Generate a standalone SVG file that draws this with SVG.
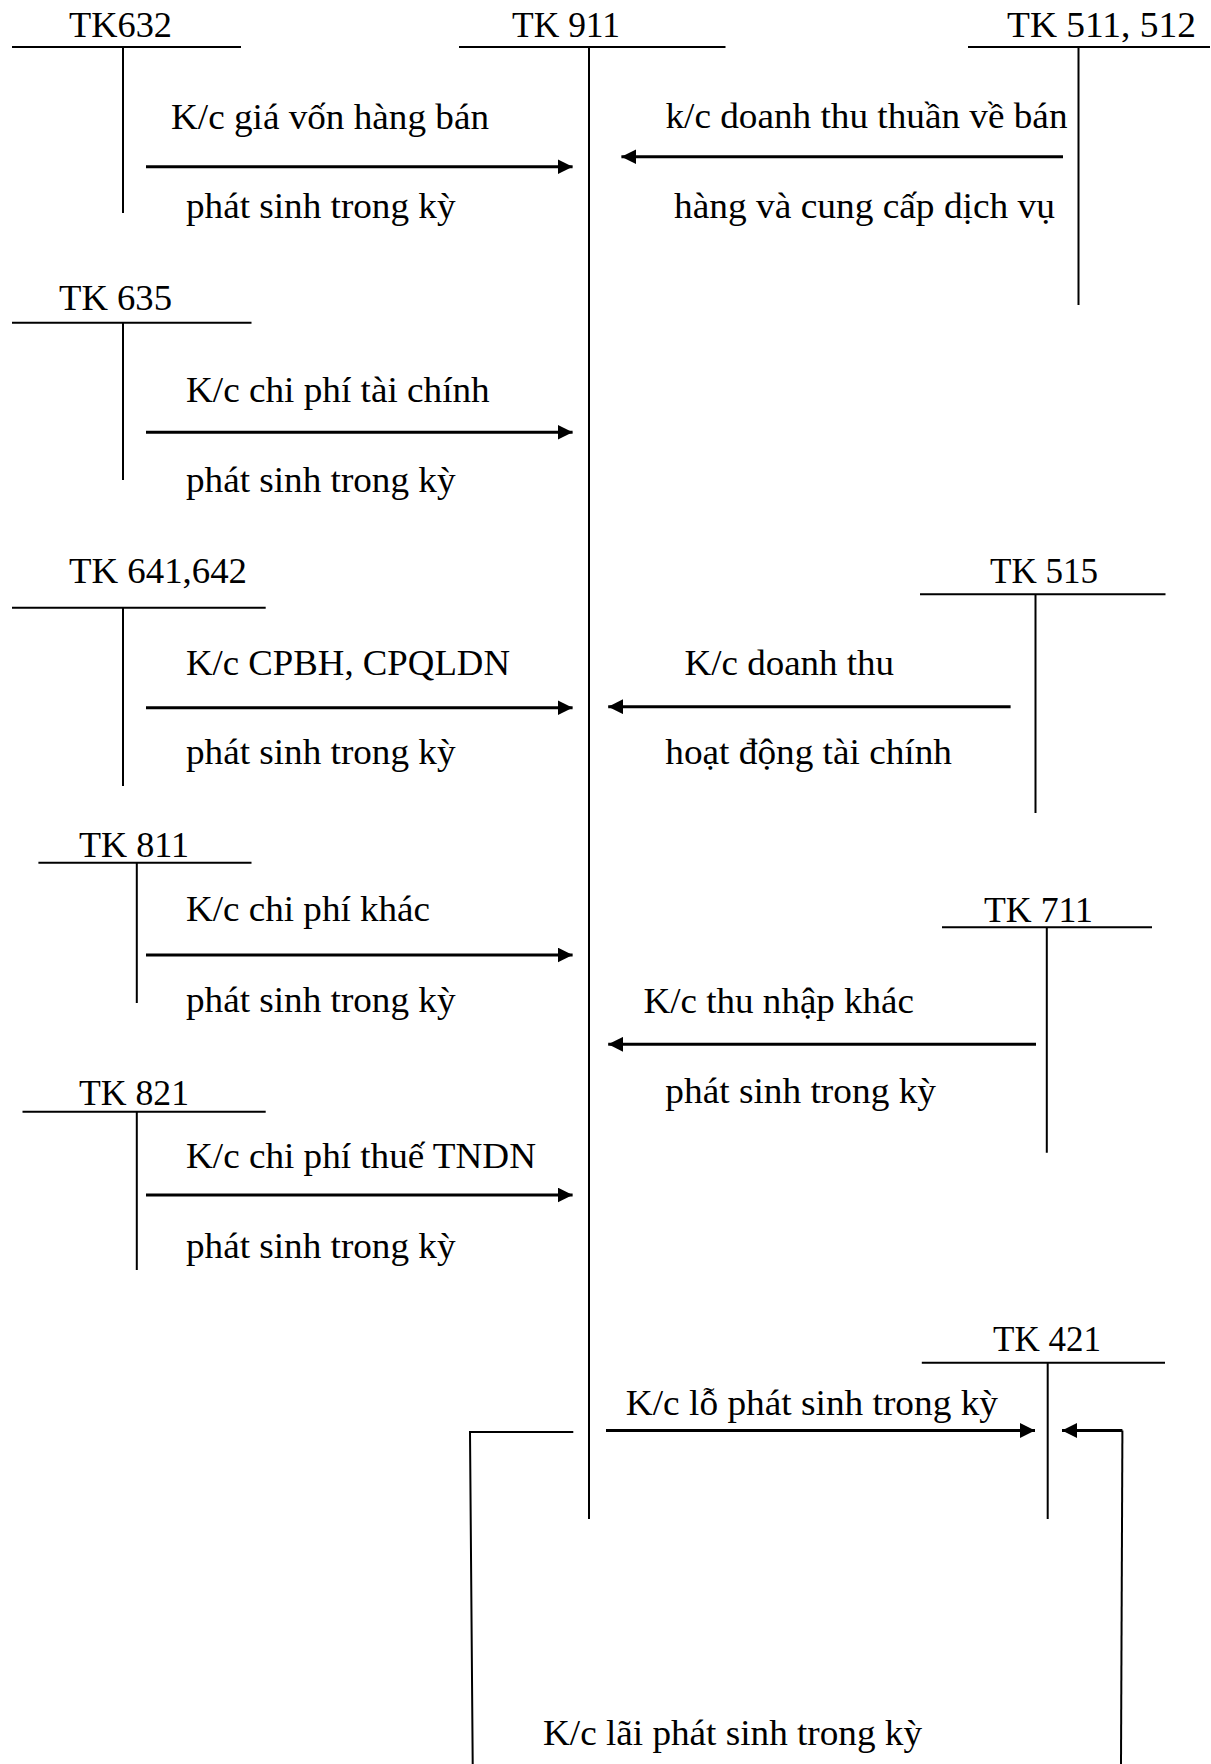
<svg xmlns="http://www.w3.org/2000/svg" width="1211" height="1764" viewBox="0 0 1211 1764">
<style>
text{font-family:"Liberation Serif","Times New Roman",serif;font-size:35px;fill:#000}
.t{stroke:#000;stroke-width:2;fill:none}
.a{stroke:#000;stroke-width:3;fill:none;marker-end:url(#ah)}
.b{stroke:#000;stroke-width:2;fill:none}
</style>
<defs>
<marker id="ah" markerUnits="userSpaceOnUse" markerWidth="16" markerHeight="15" refX="15" refY="7.5" orient="auto"><path d="M0,0 L15,7.5 L0,15 z" fill="#000"/></marker>
</defs>
<rect width="1211" height="1764" fill="#fff"/>
<g id="tk632"><text x="69" y="37" textLength="103" lengthAdjust="spacingAndGlyphs">TK632</text><path class="t" d="M12,47H241M123,47V213"/></g>
<g id="tk911"><text x="512" y="37" textLength="108" lengthAdjust="spacingAndGlyphs">TK 911</text><path class="t" d="M459,47H725.5M589,47V1519"/></g>
<g id="tk511"><text x="1007" y="37" textLength="189" lengthAdjust="spacingAndGlyphs">TK 511, 512</text><path class="t" d="M968,47H1210M1078.5,47V305"/></g>
<g id="tk635"><text x="59" y="310" textLength="113" lengthAdjust="spacingAndGlyphs">TK 635</text><path class="t" d="M12,322.7H251.5M123,322.7V480"/></g>
<g id="tk641"><text x="69" y="583" textLength="178" lengthAdjust="spacingAndGlyphs">TK 641,642</text><path class="t" d="M12,607.7H265.7M123,607.7V786"/></g>
<g id="tk515"><text x="990" y="583" textLength="108" lengthAdjust="spacingAndGlyphs">TK 515</text><path class="t" d="M920,594.3H1165.5M1035.5,594.3V813"/></g>
<g id="tk811"><text x="79" y="857" textLength="110" lengthAdjust="spacingAndGlyphs">TK 811</text><path class="t" d="M38.4,862.7H251.5M136.8,862.7V1003"/></g>
<g id="tk821"><text x="79" y="1105" textLength="110" lengthAdjust="spacingAndGlyphs">TK 821</text><path class="t" d="M22.5,1111.7H265.7M136.8,1111.7V1270"/></g>
<g id="tk711"><text x="984" y="921.7" textLength="109" lengthAdjust="spacingAndGlyphs">TK 711</text><path class="t" d="M942,927.3H1152M1046.8,927.3V1152.7"/></g>
<g id="tk421"><text x="993" y="1350.7" textLength="108" lengthAdjust="spacingAndGlyphs">TK 421</text><path class="t" d="M921.8,1362.7H1165M1047.7,1362.7V1519"/></g>
<g id="connectors">
<path class="a" d="M146,166.7H572.6"/>
<path class="a" d="M1063,156.7H621.4"/>
<path class="a" d="M146,432.3H572.6"/>
<path class="a" d="M146,707.7H572.6"/>
<path class="a" d="M1010.6,706.7H608.2"/>
<path class="a" d="M146,955H572.6"/>
<path class="a" d="M1036,1044.3H608.2"/>
<path class="a" d="M146,1195H572.6"/>
<path class="a" d="M606,1430.5H1035"/>
<path class="b" d="M573.3,1432H470L472.7,1764"/>
<path class="b" d="M1121,1764L1122.4,1430.5"/>
<path class="a" d="M1122.4,1430.5H1062"/>
</g>
<g id="labels">
<text x="171" y="129.3" textLength="318" lengthAdjust="spacingAndGlyphs">K/c giá vốn hàng bán</text>
<text x="186" y="218.3" textLength="269.5" lengthAdjust="spacingAndGlyphs">phát sinh trong kỳ</text>
<text x="665.5" y="128.3" textLength="402" lengthAdjust="spacingAndGlyphs">k/c doanh thu thuần về bán</text>
<text x="674" y="218.3" textLength="381" lengthAdjust="spacingAndGlyphs">hàng và cung cấp dịch vụ</text>
<text x="186" y="401.7" textLength="303.7" lengthAdjust="spacingAndGlyphs">K/c chi phí tài chính</text>
<text x="186" y="491.7" textLength="269.5" lengthAdjust="spacingAndGlyphs">phát sinh trong kỳ</text>
<text x="186" y="675" textLength="324" lengthAdjust="spacingAndGlyphs">K/c CPBH, CPQLDN</text>
<text x="186" y="764" textLength="269.5" lengthAdjust="spacingAndGlyphs">phát sinh trong kỳ</text>
<text x="684.6" y="675" textLength="209.4" lengthAdjust="spacingAndGlyphs">K/c doanh thu</text>
<text x="665.3" y="764" textLength="286.7" lengthAdjust="spacingAndGlyphs">hoạt động tài chính</text>
<text x="186" y="920.7" textLength="244" lengthAdjust="spacingAndGlyphs">K/c chi phí khác</text>
<text x="186" y="1011.7" textLength="269.5" lengthAdjust="spacingAndGlyphs">phát sinh trong kỳ</text>
<text x="643.6" y="1012.7" textLength="270.4" lengthAdjust="spacingAndGlyphs">K/c thu nhập khác</text>
<text x="665.3" y="1102.7" textLength="270.7" lengthAdjust="spacingAndGlyphs">phát sinh trong kỳ</text>
<text x="186" y="1168.3" textLength="350" lengthAdjust="spacingAndGlyphs">K/c chi phí thuế TNDN</text>
<text x="186" y="1258" textLength="269.5" lengthAdjust="spacingAndGlyphs">phát sinh trong kỳ</text>
<text x="625.8" y="1415" textLength="372.2" lengthAdjust="spacingAndGlyphs">K/c lỗ phát sinh trong kỳ</text>
<text x="543" y="1745" textLength="379" lengthAdjust="spacingAndGlyphs">K/c lãi phát sinh trong kỳ</text>
</g>
</svg>
